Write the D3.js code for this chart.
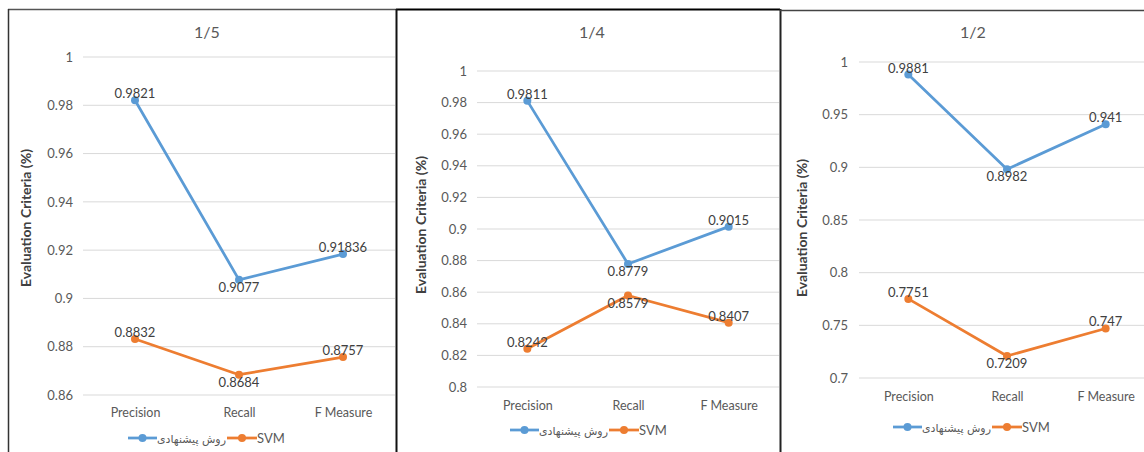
<!DOCTYPE html>
<html>
<head>
<meta charset="utf-8">
<script src="https://cdn.jsdelivr.net/npm/d3@7"></script>
<style>
  html, body { margin: 0; padding: 0; background: #fff; }
  svg { display: block; }
  text { font-family: Lato, "Liberation Sans", Arial, sans-serif; }
</style>
</head>
<body>
<svg id="chart" width="1144" height="452"></svg>
<script>
// ---- data ----
const categories = ["Precision", "Recall", "F Measure"];
const seriesNames = ["روش پیشنهادی", "SVM"];
const titles = ["1/5", "1/4", "1/2"];
const proposed_15 = [0.9821, 0.9077, 0.91836];
const svm_15 = [0.8832, 0.8684, 0.8757];
const proposed_14 = [0.9811, 0.8779, 0.9015];
const svm_14 = [0.8242, 0.8579, 0.8407];
const proposed_12 = [0.9881, 0.8982, 0.941];
const svm_12 = [0.7751, 0.7209, 0.747];
const ticks_15 = [0.86, 0.88, 0.9, 0.92, 0.94, 0.96, 0.98, 1];
const ticks_14 = [0.8, 0.82, 0.84, 0.86, 0.88, 0.9, 0.92, 0.94, 0.96, 0.98, 1];
const ticks_12 = [0.7, 0.75, 0.8, 0.85, 0.9, 0.95, 1];
// label placement: above (-1) or below (+1) the point
const labelSide_15 = [[-1, 1, -1], [-1, 1, -1]];
const labelSide_14 = [[-1, 1, -1], [-1, 1, -1]];
const labelSide_12 = [[-1, 1, -1], [-1, 1, -1]];

// ---- layout ----
const FONT = 'Lato, "Liberation Sans", Arial, sans-serif';
const colors = ["#5B9BD5", "#ED7D31"];
const panels = [
  { title: titles[0], series: [proposed_15, svm_15], ticks: ticks_15, sides: labelSide_15,
    x0: 83, x1: 395, yTop: 57, yBot: 395, tickX: 73, titleX: 207, yTitleX: 31, yTitleY: 218,
    catY: 418, legY: 438, legX: 128 },
  { title: titles[1], series: [proposed_14, svm_14], ticks: ticks_14, sides: labelSide_14,
    x0: 477, x1: 779, yTop: 71, yBot: 387, tickX: 467, titleX: 592, yTitleX: 426, yTitleY: 225,
    catY: 411, legY: 430, legX: 510 },
  { title: titles[2], series: [proposed_12, svm_12], ticks: ticks_12, sides: labelSide_12,
    x0: 859, x1: 1155, yTop: 62, yBot: 378, tickX: 848, titleX: 973, yTitleX: 807, yTitleY: 228,
    catY: 402, legY: 427, legX: 893 }
];

const svg = d3.select("#chart");

panels.forEach(p => {
  const g = svg.append("g");
  const dom = d3.extent(p.ticks);
  const y = d3.scaleLinear().domain(dom).range([p.yBot, p.yTop]);
  const x = d3.scalePoint().domain(categories).range([p.x0, p.x1]).padding(0.5);

  // gridlines
  g.selectAll("line.grid").data(p.ticks).join("line")
    .attr("x1", p.x0).attr("x2", Math.min(p.x1, 1144))
    .attr("y1", d => y(d)).attr("y2", d => y(d))
    .attr("stroke", "#D9D9D9").attr("stroke-width", 1);

  // y tick labels
  const yAxis = d3.axisLeft(y).tickValues(p.ticks).tickSize(0).tickPadding(0)
    .tickFormat(d => String(+d.toFixed(2)));
  const ya = g.append("g").attr("transform", `translate(${p.tickX},0)`).call(yAxis);
  ya.select(".domain").remove();
  ya.selectAll("text").attr("fill", "#595959").style("font-size", "13px")
    .style("font-family", FONT);

  // x category labels
  const xAxis = d3.axisBottom(x).tickSize(0).tickPadding(0);
  const xa = g.append("g").attr("transform", `translate(0,${p.catY - 10})`).call(xAxis);
  xa.select(".domain").remove();
  xa.selectAll("text").attr("fill", "#595959").style("font-size", "12.5px")
    .style("font-family", FONT);

  // title
  g.append("text").attr("x", p.titleX).attr("y", 38).attr("text-anchor", "middle")
    .attr("fill", "#595959").style("font-size", "16px").text(p.title);

  // y axis title
  g.append("text")
    .attr("transform", `translate(${p.yTitleX},${p.yTitleY}) rotate(-90)`)
    .attr("text-anchor", "middle").attr("fill", "#404040")
    .style("font-size", "14px").style("font-weight", "bold")
    .text("Evaluation Criteria (%)");

  // series
  const line = d3.line().x((d, i) => x(categories[i])).y(d => y(d));
  p.series.forEach((vals, si) => {
    g.append("path").datum(vals).attr("d", line)
      .attr("fill", "none").attr("stroke", colors[si]).attr("stroke-width", 2.75)
      .attr("stroke-linejoin", "round");
    g.selectAll(null).data(vals).join("circle")
      .attr("cx", (d, i) => x(categories[i])).attr("cy", d => y(d)).attr("r", 4)
      .attr("fill", colors[si]);
    g.selectAll(null).data(vals).join("text")
      .attr("x", (d, i) => x(categories[i]))
      .attr("y", (d, i) => y(d) + (p.sides[si][i] < 0 ? -2 : 12))
      .attr("text-anchor", "middle").attr("fill", "#404040")
      .style("font-size", "13px")
      .text(d => String(d));
  });

  // legend
  const lg = g.append("g").attr("transform", `translate(${p.legX},${p.legY})`);
  lg.append("line").attr("x1", 0).attr("x2", 29).attr("y1", 0).attr("y2", 0)
    .attr("stroke", colors[0]).attr("stroke-width", 2.75);
  lg.append("circle").attr("cx", 14.5).attr("cy", 0).attr("r", 4).attr("fill", colors[0]);
  lg.append("text").attr("x", 29).attr("y", 4.5).attr("fill", "#595959")
    .style("font-family", '"DejaVu Sans", sans-serif').style("font-size", "11px")
    .text(seriesNames[0]);
  lg.append("line").attr("x1", 99).attr("x2", 129).attr("y1", 0).attr("y2", 0)
    .attr("stroke", colors[1]).attr("stroke-width", 2.75);
  lg.append("circle").attr("cx", 114).attr("cy", 0).attr("r", 4).attr("fill", colors[1]);
  lg.append("text").attr("x", 129).attr("y", 4.5).attr("fill", "#595959")
    .style("font-size", "13px").text(seriesNames[1]);
});

// panel borders
svg.append("line").attr("x1", 8).attr("x2", 396).attr("y1", 9.5).attr("y2", 9.5)
  .attr("stroke", "#555").attr("stroke-width", 1.5);
svg.append("line").attr("x1", 8.5).attr("x2", 8.5).attr("y1", 9).attr("y2", 452)
  .attr("stroke", "#333").attr("stroke-width", 1.5);
svg.append("line").attr("x1", 396).attr("x2", 780).attr("y1", 9.5).attr("y2", 9.5)
  .attr("stroke", "#000").attr("stroke-width", 2);
svg.append("line").attr("x1", 396.5).attr("x2", 396.5).attr("y1", 9).attr("y2", 452)
  .attr("stroke", "#111").attr("stroke-width", 2);
svg.append("line").attr("x1", 780.5).attr("x2", 780.5).attr("y1", 9).attr("y2", 452)
  .attr("stroke", "#222").attr("stroke-width", 2);
svg.append("line").attr("x1", 780).attr("x2", 1144).attr("y1", 10.5).attr("y2", 10.5)
  .attr("stroke", "#444").attr("stroke-width", 1.3);
</script>
</body>
</html>
